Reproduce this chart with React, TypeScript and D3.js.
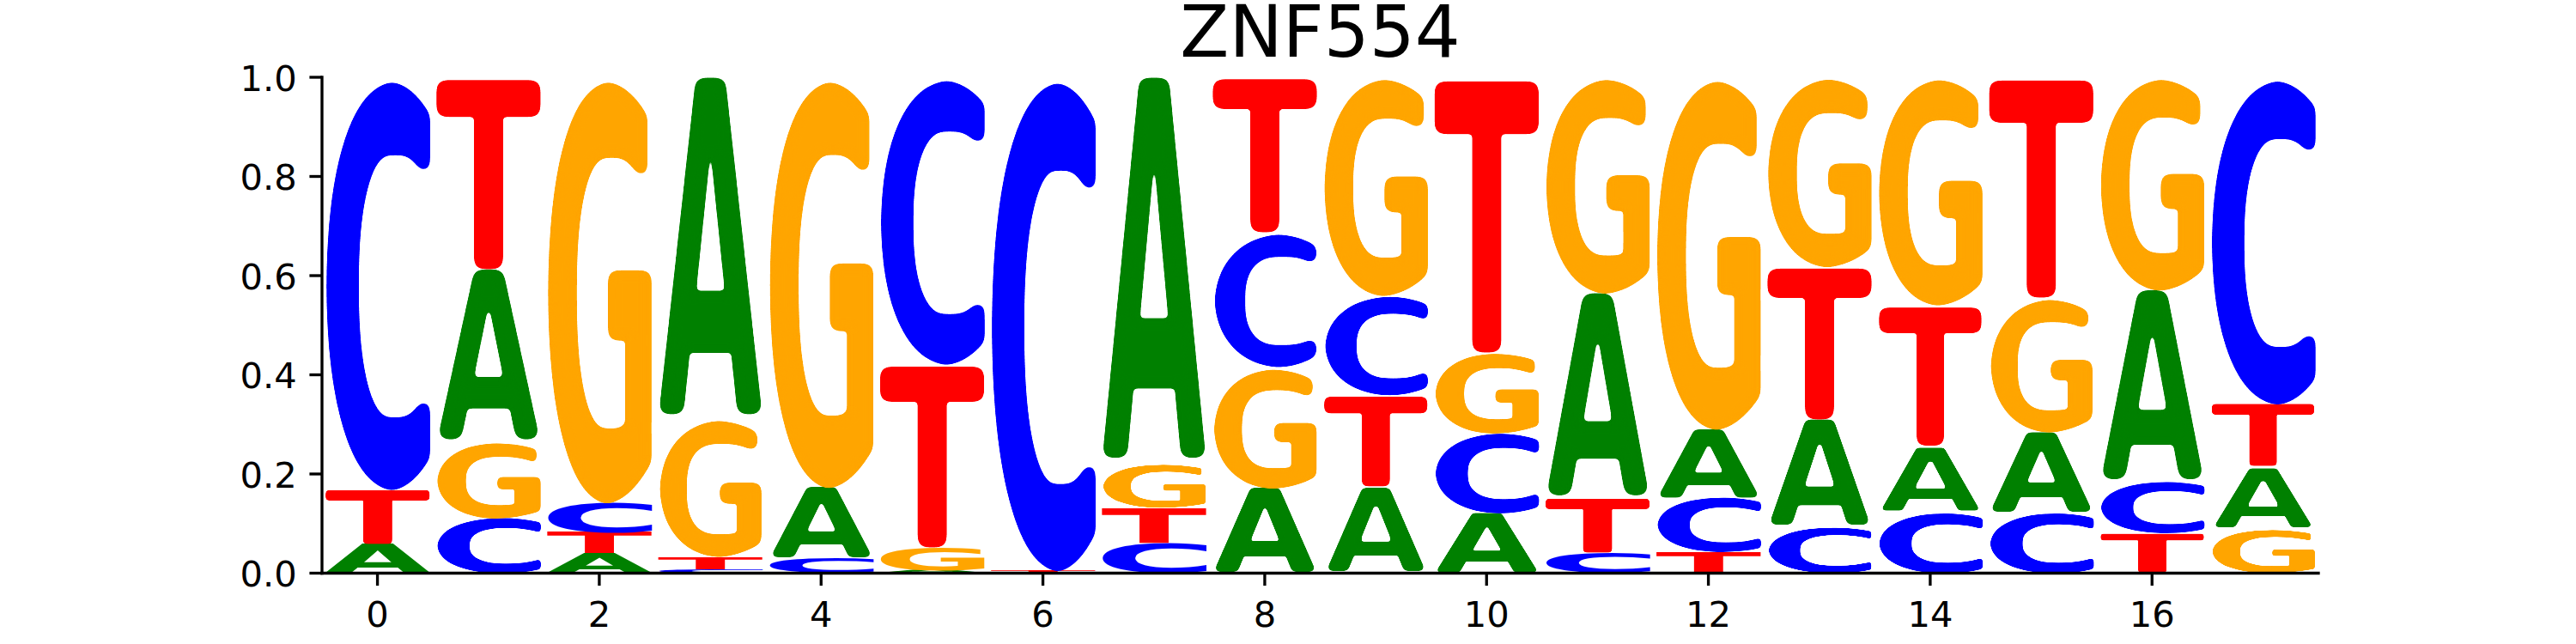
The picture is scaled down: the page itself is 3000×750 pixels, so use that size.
import React, { useMemo } from "react";
import * as d3 from "d3";

// logo matrix (probabilities per position)
const positions = [0, 1, 2, 3, 4, 5, 6, 7, 8, 9, 10, 11, 12, 13, 14, 15, 16, 17];
const probA = [0.06, 0.348, 0.04, 0.689, 0.144, 0.006, 0, 0.778, 0.171, 0.174, 0.122, 0.414, 0.14, 0.217, 0.1325, 0.161, 0.387, 0.124];
const probC = [0.83, 0.112, 0.061, 0.007, 0.03, 0.578, 0.993, 0.061, 0.273, 0.202, 0.161, 0.042, 0.109, 0.093, 0.1225, 0.122, 0.103, 0.658];
const probG = [0, 0.153, 0.857, 0.28, 0.826, 0.046, 0, 0.09, 0.243, 0.44, 0.162, 0.435, 0.709, 0.382, 0.459, 0.273, 0.429, 0.089];
const probT = [0.11, 0.387, 0.042, 0.024, 0, 0.37, 0.007, 0.071, 0.313, 0.184, 0.555, 0.109, 0.042, 0.308, 0.286, 0.444, 0.081, 0.129];

const letters = ["A", "C", "G", "T"];
const letterColors: Record<string, string> = { A: "green", C: "blue", G: "orange", T: "red" };

const xTicks = [0, 2, 4, 6, 8, 10, 12, 14, 16];
const yTicks = [0, 0.2, 0.4, 0.6, 0.8, 1.0];
const title = "ZNF554";

const W = 3000;
const H = 750;
const margin = { left: 375, right: 300, top: 90, bottom: 82.5 };
const glyphWidth = 0.95;
const FONT = "'DejaVu Sans', sans-serif";
const lw = 3.33; // 0.8pt @ 300dpi

function measureGlyphs() {
  const ctx = document.createElement("canvas").getContext("2d")!;
  ctx.font = `bold 100px 'DejaVu Sans'`;
  const out: Record<string, { l: number; r: number; a: number; d: number }> = {};
  letters.forEach((c) => {
    const m = ctx.measureText(c);
    out[c] = {
      l: m.actualBoundingBoxLeft,
      r: m.actualBoundingBoxRight,
      a: m.actualBoundingBoxAscent,
      d: m.actualBoundingBoxDescent,
    };
  });
  return out;
}

export default function App() {
  const x = d3.scaleLinear().domain([-0.5, 17.5]).range([margin.left, W - margin.right]);
  const y = d3.scaleLinear().domain([0, 1]).range([H - margin.bottom, margin.top]);

  const metrics = useMemo(measureGlyphs, []);

  const glyphs = useMemo(() => {
    const probs: Record<string, number[]> = { A: probA, C: probC, G: probG, T: probT };
    const list: { key: string; c: string; p: number; floor: number; ceil: number }[] = [];
    positions.forEach((p, i) => {
      const col = letters
        .map((c) => ({ c, v: probs[c][i] }))
        .sort((a, b) => a.v - b.v);
      let floor = 0;
      col.forEach(({ c, v }) => {
        if (v > 0) list.push({ key: `${p}-${c}`, c, p, floor, ceil: floor + v });
        floor += v;
      });
    });
    return list;
  }, []);

  const y0 = y(0);

  // soften the outer corners (erode, then blur + low threshold acting as a round dilate)
  const radiusFor = (h: number) => Math.min(6, h * 0.035);

  return (
    <div style={{ position: "absolute", left: 0, top: 0 }}>
      <svg width={W} height={H} style={{ display: "block", background: "#fff" }}>
        <defs>
          {glyphs.map((g) => {
            const r = radiusFor(y(g.floor) - y(g.ceil));
            if (r < 1.5) return null;
            const s = r / 1.5;
            const k = Math.max(10, 9.2 * s);
            const t = 0.0668;
            return (
              <filter
                key={g.key}
                id={`round-${g.key}`}
                x="-0.3"
                y="-0.3"
                width="1.6"
                height="1.6"
                colorInterpolationFilters="sRGB"
              >
                <feMorphology operator="erode" radius={r} />
                <feGaussianBlur stdDeviation={s} />
                <feColorMatrix
                  type="matrix"
                  values={`1 0 0 0 0  0 1 0 0 0  0 0 1 0 0  0 0 0 ${k} ${-k * t}`}
                />
              </filter>
            );
          })}
        </defs>

        <text x={(x(-0.5) + x(17.5)) / 2} y={65.5} textAnchor="middle" fontFamily={FONT} fontSize={83.3}>
          {title}
        </text>

        {glyphs.map((g) => {
          const m = metrics[g.c];
          const x0 = x(g.p - glyphWidth / 2);
          const x1 = x(g.p + glyphWidth / 2);
          const yt = y(g.ceil);
          const yb = y(g.floor);
          const sx = (x1 - x0) / (m.l + m.r);
          const sy = (yb - yt) / (m.a + m.d);
          const useFilter = radiusFor(yb - yt) >= 1.5;
          return (
            <g key={g.key} filter={useFilter ? `url(#round-${g.key})` : undefined}>
              <text
                transform={`translate(${x0},${yt}) scale(${sx},${sy}) translate(${m.l},${m.a})`}
                fontFamily={FONT}
                fontWeight="bold"
                fontSize={100}
                fill={letterColors[g.c]}
              >
                {g.c}
              </text>
            </g>
          );
        })}

        {/* spines */}
        <line x1={x(-0.5)} x2={x(-0.5)} y1={y(1)} y2={y0} stroke="#000" strokeWidth={lw} strokeLinecap="square" />
        <line x1={x(-0.5)} x2={x(17.5)} y1={y0} y2={y0} stroke="#000" strokeWidth={lw} strokeLinecap="square" />

        {yTicks.map((t) => (
          <g key={`y${t}`} transform={`translate(${x(-0.5)},${y(t)})`}>
            <line x1={0} x2={-14.6} stroke="#000" strokeWidth={lw} />
            <text x={-29.2} dy={15.5} textAnchor="end" fontFamily={FONT} fontSize={41.67}>
              {d3.format(".1f")(t)}
            </text>
          </g>
        ))}

        {xTicks.map((t) => (
          <g key={`x${t}`} transform={`translate(${x(t)},${y0})`}>
            <line y1={0} y2={14.6} stroke="#000" strokeWidth={lw} />
            <text y={62.5} textAnchor="middle" fontFamily={FONT} fontSize={41.67}>
              {t}
            </text>
          </g>
        ))}
      </svg>
    </div>
  );
}
